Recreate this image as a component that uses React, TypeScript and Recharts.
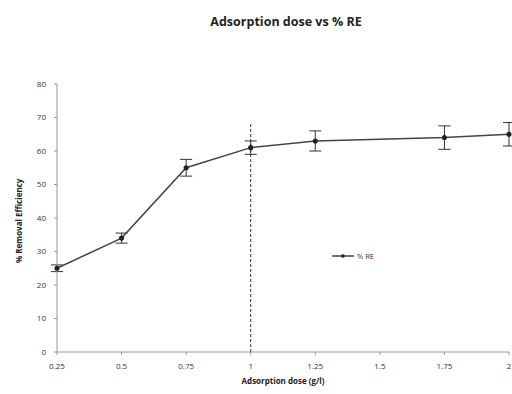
import React from "react";
import { LineChart, Line, XAxis, YAxis, ErrorBar, ReferenceLine, Legend } from "recharts";

const doses = [0.25, 0.5, 0.75, 1, 1.25, 1.75, 2];
const removal = [25, 34, 55, 61, 63, 64, 65];
const errors = [1, 1.5, 2.5, 2, 3, 3.5, 3.5];
const xTicks = [0.25, 0.5, 0.75, 1, 1.25, 1.5, 1.75, 2];
const yTicks = [0, 10, 20, 30, 40, 50, 60, 70, 80];

const data = doses.map((d, i) => ({ dose: d, re: removal[i], err: errors[i] }));

const font = "'Open Sans', 'Liberation Sans', sans-serif";

function LegendBox() {
  return (
    <div style={{ display: "flex", alignItems: "center", fontSize: 7.5, color: "#333" }}>
      <svg width={22} height={8}>
        <line x1={0} y1={4} x2={22} y2={4} stroke="#444" strokeWidth={1.5} />
        <circle cx={11} cy={4} r={1.8} fill="#222" />
      </svg>
      <span style={{ marginLeft: 3 }}>% RE</span>
    </div>
  );
}

export default function App() {
  return (
    <div style={{ position: "absolute", left: 0, top: 0, width: 512, height: 394, background: "#fff", fontFamily: font }}>
      <div
        style={{
          position: "absolute",
          top: 13,
          left: 0,
          width: 572,
          textAlign: "center",
          fontSize: 12.5,
          fontWeight: 700,
          color: "#222",
        }}
      >
        Adsorption dose vs % RE
      </div>
      <LineChart width={512} height={394} data={data} margin={{ top: 84, right: 3, left: 0, bottom: 8 }}>
        <XAxis
          dataKey="dose"
          type="number"
          domain={[0.25, 2]}
          ticks={xTicks}
          tickSize={3}
          tick={{ fontSize: 8, fill: "#333", dy: 6 }}
          stroke="#999"
          height={34}
          label={{ value: "Adsorption dose (g/l)", position: "insideBottom", offset: 2, fontSize: 8, fontWeight: 700, fill: "#222" }}
        />
        <YAxis
          type="number"
          domain={[0, 80]}
          ticks={yTicks}
          tickSize={3}
          tick={{ fontSize: 8, fill: "#333", dx: -6 }}
          stroke="#999"
          width={57}
          label={{ value: "% Removal Efficiency", angle: -90, position: "insideLeft", offset: 19, dy: 45, fontSize: 8, fontWeight: 700, fill: "#222" }}
        />
        <ReferenceLine
          segment={[
            { x: 1, y: 0 },
            { x: 1, y: 68 },
          ]}
          stroke="#333"
          strokeDasharray="3 2"
          strokeWidth={1}
        />
        <Legend
          layout="horizontal"
          align="center"
          verticalAlign="middle"
          wrapperStyle={{ position: "absolute", left: 332, top: 251, width: 60 }}
          content={() => <LegendBox />}
        />
        <Line
          dataKey="re"
          name="% RE"
          stroke="#444"
          strokeWidth={1.5}
          dot={{ r: 1.8, fill: "#222", stroke: "#222" }}
          isAnimationActive={false}
        >
          <ErrorBar dataKey="err" direction="y" width={6} stroke="#333" strokeWidth={1} />
        </Line>
      </LineChart>
    </div>
  );
}
